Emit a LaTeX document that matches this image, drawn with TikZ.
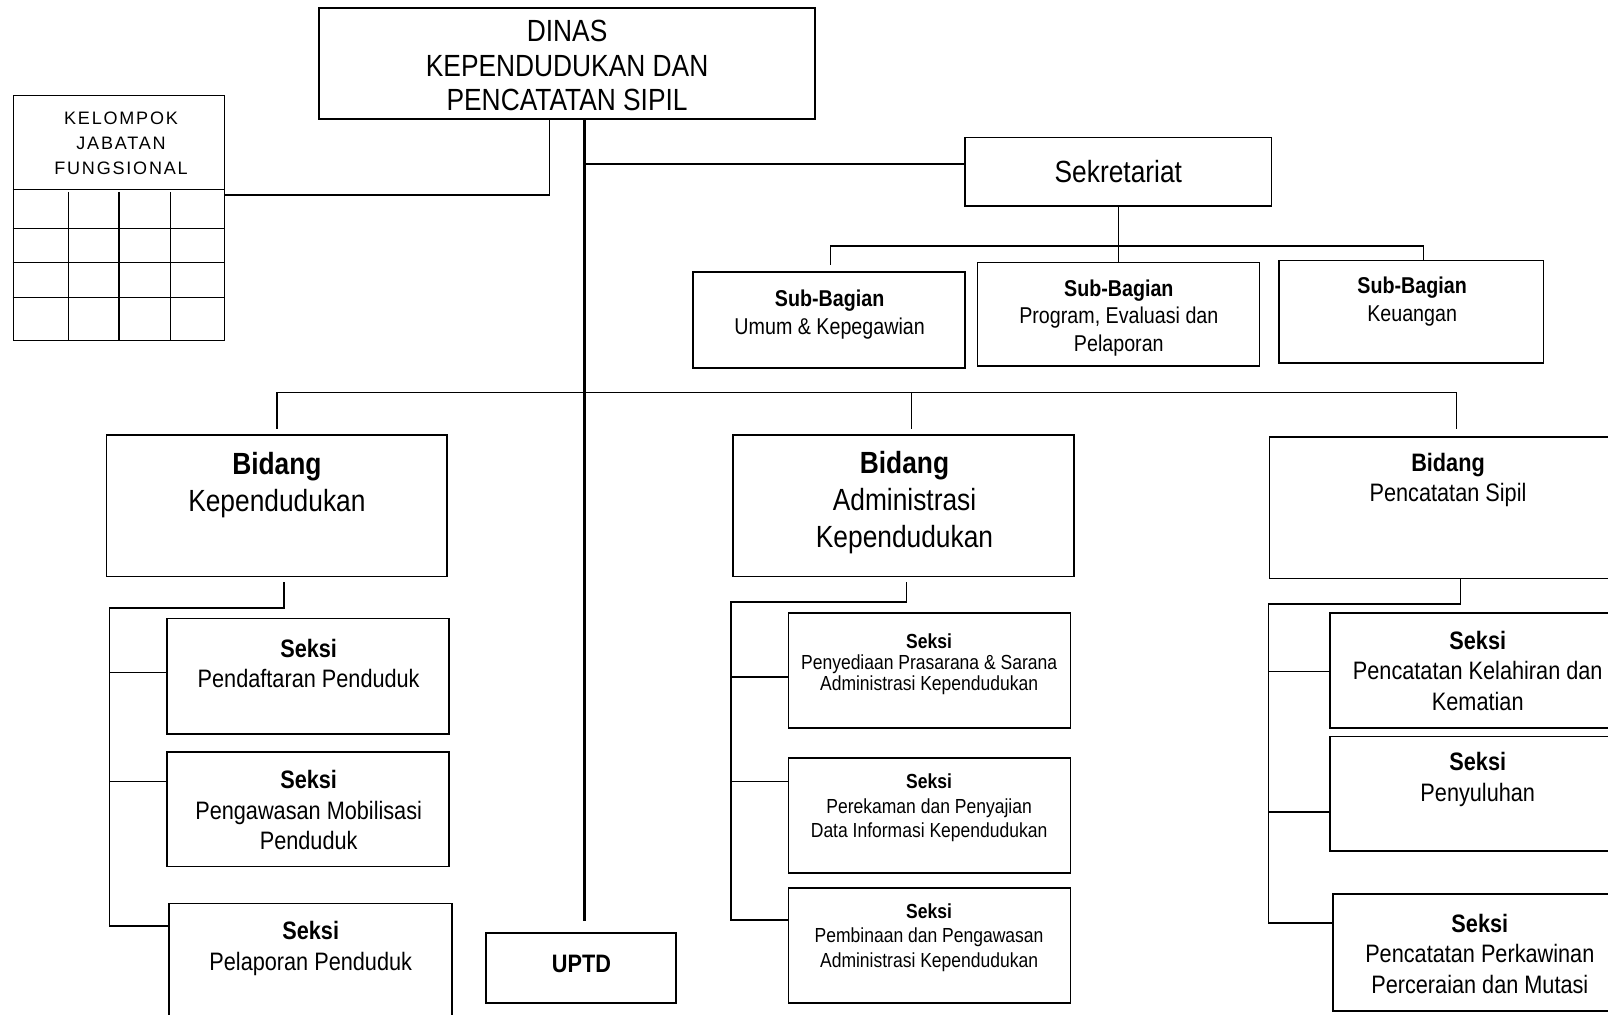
\documentclass[tikz,border=0pt]{standalone}
\usepackage{fontspec}
\setmainfont{Liberation Sans}[FakeStretch=0.86]
\newfontfamily\kjffont{Liberation Sans}[LetterSpace=10]
\newlength{\pxu}
\setlength{\pxu}{0.02cm}

\tikzset{
  orgbox/.style={draw, line width=0.9pt, inner sep=0pt},
  lbl/.style={align=center, inner sep=0pt},
  link/.style={line width=0.8pt},
  trunk/.style={line width=1.2pt},
  fbig/.style={font=\fontsize{17}{20.7}\selectfont},
  fmid/.style={font=\fontsize{14}{17}\selectfont},
  fsub/.style={font=\fontsize{12.7}{15.3}\selectfont},
  fsml/.style={font=\fontsize{11.3}{13.6}\selectfont},
}

\begin{document}
\begin{tikzpicture}[x=0.02cm, y=-0.02cm]
\useasboundingbox (0,0) rectangle (1568,989);
\clip (0,0) rectangle (1568,989);

% kotak
\node[orgbox, minimum width=484\pxu, minimum height=108\pxu] (dinas) at (553,62) {};
\node[orgbox, minimum width=206\pxu, minimum height=239\pxu] (kjf) at (116,212.5) {};
\node[orgbox, minimum width=299\pxu, minimum height=67\pxu, fbig] (sekr) at (1090.5,167.5) {Sekretariat};
\node[orgbox, minimum width=265\pxu, minimum height=94\pxu] (sbu) at (808.5,312) {};
\node[orgbox, minimum width=275\pxu, minimum height=101\pxu] (sbp) at (1090.5,306.5) {};
\node[orgbox, minimum width=258\pxu, minimum height=100\pxu] (sbk) at (1376,304) {};
\node[orgbox, minimum width=332\pxu, minimum height=138\pxu] (bkep) at (270,493) {};
\node[orgbox, minimum width=332\pxu, minimum height=138\pxu] (badm) at (881,493) {};
\node[orgbox, minimum width=362\pxu, minimum height=138\pxu] (bpcs) at (1419,495) {};
\node[orgbox, minimum width=275\pxu, minimum height=113\pxu] (s1) at (300.5,659.5) {};
\node[orgbox, minimum width=275\pxu, minimum height=112\pxu] (s2) at (300.5,789) {};
\node[orgbox, minimum width=276\pxu, minimum height=124\pxu] (s3) at (303,943) {};
\node[orgbox, minimum width=275\pxu, minimum height=112\pxu] (a1) at (906.5,654) {};
\node[orgbox, minimum width=275\pxu, minimum height=112\pxu] (a2) at (906.5,795) {};
\node[orgbox, minimum width=275\pxu, minimum height=112\pxu] (a3) at (906.5,922) {};
\node[orgbox, minimum width=303\pxu, minimum height=112\pxu] (p1) at (1448.5,654) {};
\node[orgbox, minimum width=303\pxu, minimum height=112\pxu] (p2) at (1448.5,774) {};
\node[orgbox, minimum width=300\pxu, minimum height=114\pxu] (p3) at (1450,929) {};
\node[orgbox, minimum width=185\pxu, minimum height=68\pxu] (uptd) at (566.5,944) {};

% teks
\node[lbl, font=\fontsize{17}{19}\selectfont] (t-dinas) at (553,64) {DINAS\\KEPENDUDUKAN DAN\\PENCATATAN SIPIL};
\node[lbl, font=\kjffont\fontsize{10}{13.9}\selectfont] (t-kjf) at (118,140) {KELOMPOK\\JABATAN\\FUNGSIONAL};
\node[lbl, fsub] (t-sbu) at (809,307) {\textbf{Sub-Bagian}\\Umum \& Kepegawian};
\node[lbl, fsub] (t-sbp) at (1091,310) {\textbf{Sub-Bagian}\\Program, Evaluasi dan\\Pelaporan};
\node[lbl, fsub] (t-sbk) at (1377,294) {\textbf{Sub-Bagian}\\Keuangan};
\node[lbl, fbig] (t-bkep) at (270,473) {\textbf{Bidang}\\Kependudukan};
\node[lbl, fbig] (t-badm) at (882,490) {\textbf{Bidang}\\Administrasi\\Kependudukan};
\node[lbl, fmid] (t-bpcs) at (1412,468) {\textbf{Bidang}\\Pencatatan Sipil};
\node[lbl, fmid] (t-s1) at (301,647) {\textbf{Seksi}\\Pendaftaran Penduduk};
\node[lbl, fmid] (t-s2) at (301,790) {\textbf{Seksi}\\Pengawasan Mobilisasi\\Penduduk};
\node[lbl, fmid] (t-s3) at (303,925) {\textbf{Seksi}\\Pelaporan Penduduk};
\node[lbl, font=\fontsize{11.3}{11.6}\selectfont] (t-a1) at (906,648) {\textbf{Seksi}\\Penyediaan Prasarana \& Sarana\\Administrasi Kependudukan};
\node[lbl, fsml] (t-a2) at (906,788) {\textbf{Seksi}\\Perekaman dan Penyajian\\Data Informasi Kependudukan};
\node[lbl, fsml] (t-a3) at (906,914) {\textbf{Seksi}\\Pembinaan dan Pengawasan\\Administrasi Kependudukan};
\node[lbl, fmid] (t-p1) at (1441,654) {\textbf{Seksi}\\Pencatatan Kelahiran dan\\Kematian};
\node[lbl, fmid] (t-p2) at (1441,760) {\textbf{Seksi}\\Penyuluhan};
\node[lbl, fmid] (t-p3) at (1443,930) {\textbf{Seksi}\\Pencatatan Perkawinan\\Perceraian dan Mutasi};
\node[lbl, fmid] (t-uptd) at (567,940) {\textbf{UPTD}};

% kisi jabatan fungsional
\draw[link] (kjf.west |- 0,185) -- (kjf.east |- 0,185);
\foreach \y in {223,256,290} \draw[link] (kjf.west |- 0,\y) -- (kjf.east |- 0,\y);
\foreach \x in {67,116,166} \draw[link] (\x,187) -- (\x,0 |- kjf.south);

% garis DINAS
\coordinate (kjf-j) at (536,190);
\draw[link] (dinas.south -| kjf-j) -- (kjf-j) -- (kjf.east |- kjf-j);
\coordinate (trunk-end) at (570,898);
\draw[trunk] (dinas.south -| trunk-end) -- (trunk-end);
\coordinate (sekr-j) at (570,160);
\draw[link] (sekr-j) -- (sekr.west |- sekr-j);

% Sekretariat ke Sub-Bagian
\coordinate (sb-l) at (810,240);
\coordinate (sb-r) at (1388,240);
\draw[link] (sekr.south) -- (sbp.north);
\draw[link] (sb-l |- 0,258) -- (sb-l) -- (sb-r) -- (sbk.north -| sb-r);

% garis Bidang
\coordinate (bd-l) at (270,383);
\coordinate (bd-m) at (889,383);
\coordinate (bd-r) at (1420,383);
\draw[link] (bd-l |- 0,418) -- (bd-l) -- (bd-r) -- (bd-r |- 0,418);
\draw[link] (bd-m) -- (bd-m |- 0,418);

% Bidang Kependudukan
\coordinate (kep-j) at (277,593);
\coordinate (kep-v) at (107,593);
\draw[link] (kep-j |- 0,568) -- (kep-j) -- (kep-v) -- (kep-v |- 0,903) -- (s3.west |- 0,903);
\draw[link] (kep-v |- 0,656) -- (s1.west |- 0,656);
\draw[link] (kep-v |- 0,762) -- (s2.west |- 0,762);

% Bidang Administrasi Kependudukan
\coordinate (adm-j) at (884,587);
\coordinate (adm-v) at (713,587);
\draw[link] (adm-j |- 0,568) -- (adm-j) -- (adm-v) -- (adm-v |- 0,897) -- (a3.west |- 0,897);
\draw[link] (adm-v |- 0,660) -- (a1.west |- 0,660);
\draw[link] (adm-v |- 0,762) -- (a2.west |- 0,762);

% Bidang Pencatatan Sipil
\coordinate (pcs-j) at (1424,589);
\coordinate (pcs-v) at (1237,589);
\draw[link] (pcs-j |- bpcs.south) -- (pcs-j) -- (pcs-v) -- (pcs-v |- 0,900) -- (p3.west |- 0,900);
\draw[link] (pcs-v |- 0,655) -- (p1.west |- 0,655);
\draw[link] (pcs-v |- 0,792) -- (p2.west |- 0,792);
\end{tikzpicture}
\end{document}
